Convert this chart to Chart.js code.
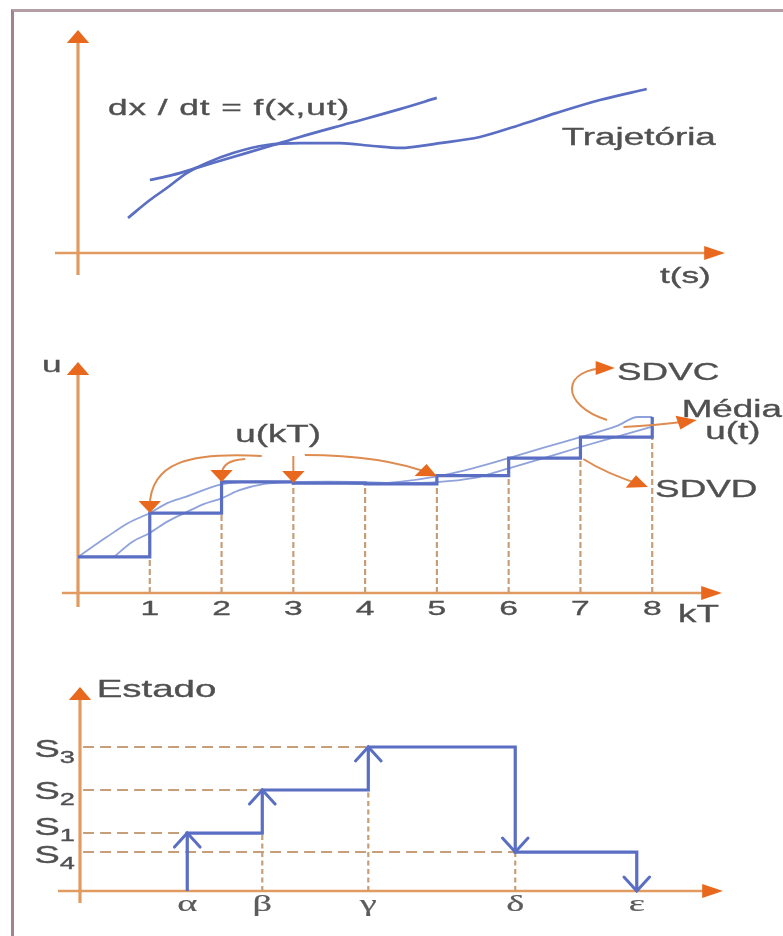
<!DOCTYPE html>
<html lang="pt">
<head>
<meta charset="utf-8">
<title>Trajetória, amostragem e estados</title>
<script src="https://cdn.jsdelivr.net/npm/chart.js@4.4.1/dist/chart.umd.min.js"></script>
<style>
  html, body { margin: 0; padding: 0; background: #fff; }
  #page { position: relative; width: 783px; height: 936px; overflow: hidden; background: #fff; }
  #frame { position: absolute; left: 11px; top: 9px; width: 820px; height: 980px;
           border-left: 3px solid #a2838d; border-top: 3px solid #b49ea6; }
  canvas { position: absolute; left: 0; }
</style>
</head>
<body>
<div id="page">
  <div id="frame"></div>
  <canvas id="c1" width="783" height="300" style="top:0px"></canvas>
  <canvas id="c2" width="783" height="330" style="top:310px"></canvas>
  <canvas id="c3" width="783" height="296" style="top:640px"></canvas>
</div>
<script>
// ---- Panel 1: vector field curve and state trajectory over t(s) ----
const fieldT = [1.15, 1.52, 1.95, 2.48, 3.02, 3.55, 4.35, 5.15, 5.74];
const fieldX = [3.46, 3.70, 4.08, 4.55, 5.02, 5.50, 6.16, 6.82, 7.35];
const trajT  = [0.80, 1.15, 1.42, 1.74, 2.06, 2.48, 3.02, 3.55, 4.19, 4.72, 5.15, 5.79, 6.43, 7.07, 7.66, 8.35, 9.10];
const trajX  = [1.66, 2.51, 3.08, 3.79, 4.27, 4.74, 5.12, 5.21, 5.21, 5.07, 4.98, 5.21, 5.50, 6.07, 6.64, 7.25, 7.77];

// ---- Panel 2: sampled signal u(kT) (SDVD), continuous u (SDVC) and its mean ----
const sampleK = [0, 1, 2, 3, 4, 5, 6, 7, 8];
const sampleU = [1.56, 3.46, 4.81, 4.76, 4.72, 5.08, 5.84, 6.75, 7.62];
const kTickLabels = ['1', '2', '3', '4', '5', '6', '7', '8'];
const contT = [0, 0.4, 0.7, 1, 1.25, 1.5, 2, 2.5, 3, 3.5, 4, 4.5, 5, 5.5, 6, 6.5, 7, 7.5, 7.8, 8];
const contU = [1.56, 2.42, 3.03, 3.46, 3.90, 4.16, 4.70, 4.82, 4.81, 4.80, 4.72, 4.82, 5.05, 5.40, 5.84, 6.30, 6.75, 7.22, 7.62, 7.62];
const meanT = [0.5, 0.75, 1, 1.25, 1.5, 1.75, 2, 2.25, 2.6, 3, 3.5, 4, 4.5, 5, 5.5, 6, 6.5, 7, 7.5, 8];
const meanU = [1.56, 2.20, 2.60, 3.10, 3.48, 3.85, 4.10, 4.45, 4.72, 4.80, 4.82, 4.80, 4.76, 4.80, 4.97, 5.40, 5.85, 6.32, 6.76, 7.20];

// ---- Panel 3: discrete-event state sequence ----
const eventNames  = ['α', 'β', 'γ', 'δ', 'ε'];
const eventTimes  = [1.73, 2.94, 4.65, 7.02, 8.98];
const stateNames  = ['S1', 'S2', 'S3', 'S4'];
const stateLevels = [2.84, 4.95, 7.06, 1.91];
const stateAfterEvent = [0, 1, 2, 3, -1];   // index into stateNames, -1 = back to the axis

// ---- drawing style ----
const S = 1.6;                // horizontal stretch of lettering and arrowheads
const FONT = '"Liberation Sans", Arial, Helvetica, sans-serif';
const SERIF = '"Liberation Serif", "Times New Roman", serif';
const INK = '#505050';
const AXIS = '#e19a5f';
const ORANGE = '#e8691d';
const LINK = '#de8b50';
const BLUE = '#5a6ec3';
const BLUE_THIN = '#8fa2db';
const DASH = '#c69f79';

function zip(xs, ys) { return xs.map((x, i) => ({ x, y: ys[i] })); }
function at(chart, x, y) {
  return { x: chart.scales.x.getPixelForValue(x), y: chart.scales.y.getPixelForValue(y) };
}

function label(ctx, str, x, y, o = {}) {
  const size = o.size || 22;
  const color = o.color || INK;
  ctx.save();
  ctx.font = `${size}px ${o.family || FONT}`;
  ctx.fillStyle = color;
  ctx.strokeStyle = color;
  ctx.lineWidth = o.weight === undefined ? 0.35 : o.weight;
  ctx.textBaseline = 'alphabetic';
  ctx.textAlign = 'left';
  if (o.spacing) ctx.letterSpacing = o.spacing + 'px';
  const w = ctx.measureText(str).width * S;
  let x0 = x;
  if (o.align === 'center') x0 = x - w / 2;
  else if (o.align === 'right') x0 = x - w;
  ctx.translate(x0, y);
  ctx.scale(S, 1);
  ctx.fillText(str, 0, 0);
  if (ctx.lineWidth > 0) ctx.strokeText(str, 0, 0);
  ctx.restore();
  return w;
}
function labelAt(chart, str, x, y, o) {
  const p = at(chart, x, y);
  return label(chart.ctx, str, p.x, p.y, o);
}

function headPoints(tip, dir, len, half) {
  let ux = dir.x / S, uy = dir.y;
  const n = Math.hypot(ux, uy) || 1;
  ux /= n; uy /= n;
  const bx = -ux * len, by = -uy * len;
  return [
    { x: tip.x + (bx - uy * half) * S, y: tip.y + (by + ux * half) },
    { x: tip.x + (bx + uy * half) * S, y: tip.y + (by - ux * half) }
  ];
}
function filledHead(ctx, tip, dir, len, half, color) {
  const [p, q] = headPoints(tip, dir, len, half);
  ctx.save();
  ctx.fillStyle = color;
  ctx.beginPath();
  ctx.moveTo(tip.x, tip.y); ctx.lineTo(p.x, p.y); ctx.lineTo(q.x, q.y);
  ctx.closePath(); ctx.fill();
  ctx.restore();
}
function openHead(ctx, tip, dir, len, half, color, width) {
  const [p, q] = headPoints(tip, dir, len, half);
  ctx.save();
  ctx.strokeStyle = color; ctx.lineWidth = width; ctx.lineCap = 'round'; ctx.lineJoin = 'miter';
  ctx.beginPath();
  ctx.moveTo(p.x, p.y); ctx.lineTo(tip.x, tip.y); ctx.lineTo(q.x, q.y);
  ctx.stroke();
  ctx.restore();
}

// axis lines with arrowheads, placed on the x = 0 / y = 0 edges of the plot area
function axes(chart, g) {
  const ctx = chart.ctx, a = chart.chartArea;
  const xTip = a.right + g.xTip, yTip = a.top - g.yTip;
  ctx.save();
  ctx.strokeStyle = AXIS;
  ctx.lineWidth = 2.6;
  ctx.beginPath(); ctx.moveTo(a.left - g.xBack, a.bottom); ctx.lineTo(xTip - 10 * S, a.bottom); ctx.stroke();
  ctx.lineWidth = 3.2;
  ctx.beginPath(); ctx.moveTo(a.left, a.bottom + g.yBelow); ctx.lineTo(a.left, yTip + 10); ctx.stroke();
  ctx.restore();
  filledHead(ctx, { x: xTip, y: a.bottom }, { x: 1, y: 0 }, 13, 7, ORANGE);
  filledHead(ctx, { x: a.left, y: yTip }, { x: 0, y: -1 }, 13, 7, ORANGE);
}

// curved callout ending in a filled arrowhead; points in data units
function link(chart, p0, c1, c2, p3) {
  const ctx = chart.ctx;
  const a = at(chart, p0[0], p0[1]), b = at(chart, c1[0], c1[1]);
  const c = at(chart, c2[0], c2[1]), d = at(chart, p3[0], p3[1]);
  const dir = { x: d.x - c.x, y: d.y - c.y };
  const n = Math.hypot(dir.x, dir.y) || 1;
  const e = { x: d.x - dir.x / n * 6, y: d.y - dir.y / n * 6 };
  ctx.save();
  ctx.strokeStyle = LINK; ctx.lineWidth = 2;
  ctx.beginPath(); ctx.moveTo(a.x, a.y); ctx.bezierCurveTo(b.x, b.y, c.x, c.y, e.x, e.y); ctx.stroke();
  ctx.restore();
  filledHead(ctx, d, dir, 12, 7, ORANGE);
}

function frameOptions(area, h, xr, yr) {
  return {
    responsive: false,
    animation: false,
    events: [],
    layout: { padding: { left: area.left, right: 783 - area.right, top: area.top, bottom: h - area.bottom } },
    scales: {
      x: { type: 'linear', display: false, min: xr[0], max: xr[1] },
      y: { type: 'linear', display: false, min: yr[0], max: yr[1] }
    },
    plugins: { legend: { display: false }, tooltip: { enabled: false } },
    elements: { point: { radius: 0 } }
  };
}
const smooth = { cubicInterpolationMode: 'monotone', pointRadius: 0, fill: false, clip: false };

// ================= Panel 1 =================
new Chart(document.getElementById('c1'), {
  type: 'line',
  data: {
    datasets: [
      { label: 'dx / dt = f(x,ut)', data: zip(fieldT, fieldX), borderColor: BLUE, borderWidth: 2.7, ...smooth },
      { label: 'Trajetória', data: zip(trajT, trajX), borderColor: BLUE, borderWidth: 2.7, ...smooth }
    ]
  },
  options: frameOptions({ left: 78, right: 703, top: 42, bottom: 253 }, 300, [0, 10], [0, 10]),
  plugins: [{
    id: 'panel1',
    beforeDatasetsDraw(chart) { axes(chart, { xBack: 23, xTip: 22, yBelow: 22, yTip: 12 }); },
    afterDatasetsDraw(chart) {
      labelAt(chart, 'dx / dt = f(x,ut)', 0.48, 6.54, { size: 22, spacing: 0.6 });
      labelAt(chart, 'Trajetória', 7.74, 5.12, { size: 23 });
      labelAt(chart, 't(s)', 9.31, -1.42, { size: 22 });
    }
  }]
});

// ================= Panel 2 =================
const sampleGuides = sampleK.slice(1).map(k => ({
  data: [{ x: k, y: 0 }, { x: k, y: sampleU[k] }],
  borderColor: DASH, borderWidth: 2.2, borderDash: [6, 3], pointRadius: 0, fill: false, clip: false, order: 5
}));

new Chart(document.getElementById('c2'), {
  type: 'line',
  data: {
    datasets: [
      { label: 'SDVD', data: zip(sampleK, sampleU), stepped: 'before', borderColor: BLUE, borderWidth: 3.2,
        pointRadius: 0, fill: false, clip: false, order: 0 },
      { label: 'SDVC', data: zip(contT, contU), borderColor: BLUE_THIN, borderWidth: 1.8, order: 1, ...smooth },
      { label: 'Média u(t)', data: zip(meanT, meanU), borderColor: BLUE_THIN, borderWidth: 1.8, order: 1, ...smooth },
      ...sampleGuides
    ]
  },
  options: frameOptions({ left: 78, right: 724, top: 52, bottom: 283 }, 330, [0, 9], [0, 10]),
  plugins: [{
    id: 'panel2',
    beforeDatasetsDraw(chart) { axes(chart, { xBack: 16, xTip: -2, yBelow: 14, yTip: 0 }); },
    afterDatasetsDraw(chart) {
      const a = chart.chartArea;
      // callouts from u(kT) to the samples
      link(chart, [2.56, 5.93], [1.56, 6.10], [1.0, 5.67], [1, sampleU[1]]);
      link(chart, [2.33, 5.80], [2.12, 5.75], [2.0, 5.60], [2, sampleU[2]]);
      link(chart, [3.0, 5.93], [3.0, 5.60], [3.0, 5.30], [3, sampleU[3]]);
      link(chart, [3.16, 5.97], [3.93, 5.97], [4.49, 5.67], [5, 5.05]);
      // callouts to the legend words
      link(chart, [7.37, 7.49], [6.71, 8.14], [6.72, 9.74], [7.48, 9.74]);
      link(chart, [7.60, 7.19], [7.97, 7.23], [8.32, 7.36], [8.62, 7.49]);
      link(chart, [7.04, 5.80], [7.28, 5.32], [7.55, 4.98], [7.94, 4.59]);

      labelAt(chart, 'u', -0.5, 9.57, { size: 22 });
      labelAt(chart, 'u(kT)', 2.19, 6.54, { size: 23 });
      labelAt(chart, 'SDVC', 7.51, 9.22, { size: 23 });
      labelAt(chart, 'Média', 8.41, 7.62, { size: 23 });
      labelAt(chart, 'u(t)', 8.74, 6.67, { size: 23 });
      labelAt(chart, 'SDVD', 8.04, 4.16, { size: 23 });
      labelAt(chart, 'kT', 8.36, -1.26, { size: 23 });
      kTickLabels.forEach((t, i) => {
        label(chart.ctx, t, chart.scales.x.getPixelForValue(sampleK[i + 1]), a.bottom + 22, { size: 21, align: 'center' });
      });
    }
  }]
});

// ================= Panel 3 =================
const levelAfter = stateAfterEvent.map(s => (s < 0 ? 0 : stateLevels[s]));
const statePath = [{ x: eventTimes[0], y: 0 }].concat(eventTimes.map((t, i) => ({ x: t, y: levelAfter[i] })));

const levelGuides = stateNames.map((n, j) => {
  const i = stateAfterEvent.indexOf(j);
  return {
    data: [{ x: 0.05, y: stateLevels[j] }, { x: eventTimes[i], y: stateLevels[j] }],
    borderColor: DASH, borderWidth: 2, borderDash: [11, 6], pointRadius: 0, fill: false, clip: false, order: 5
  };
});
const eventGuides = eventTimes.map((t, i) => {
  const before = i === 0 ? 0 : levelAfter[i - 1];
  const low = Math.min(before, levelAfter[i]);
  return low > 0 ? {
    data: [{ x: t, y: 0 }, { x: t, y: low }],
    borderColor: DASH, borderWidth: 2.2, borderDash: [5, 3.5], pointRadius: 0, fill: false, clip: false, order: 5
  } : null;
}).filter(Boolean);

new Chart(document.getElementById('c3'), {
  type: 'line',
  data: {
    datasets: [
      { label: 'Estado', data: statePath, stepped: 'before', borderColor: BLUE, borderWidth: 3.2,
        pointRadius: 0, fill: false, clip: false, order: 0 },
      ...levelGuides,
      ...eventGuides
    ]
  },
  options: frameOptions({ left: 80, right: 700, top: 47, bottom: 251 }, 296, [0, 10], [0, 10]),
  plugins: [{
    id: 'panel3',
    beforeDatasetsDraw(chart) { axes(chart, { xBack: 22, xTip: 23, yBelow: 12, yTip: 0 }); },
    afterDatasetsDraw(chart) {
      const ctx = chart.ctx, a = chart.chartArea;
      // transition arrowheads
      eventTimes.forEach((t, i) => {
        const before = i === 0 ? 0 : levelAfter[i - 1];
        const tip = at(chart, t, levelAfter[i]);
        openHead(ctx, tip, { x: 0, y: levelAfter[i] > before ? -1 : 1 }, 14, 8, BLUE, 3);
      });
      labelAt(chart, 'Estado', 0.27, 9.51, { size: 24 });
      // state names with subscript index
      const baselineShift = { S1: 2, S2: 9, S3: 10, S4: 11 };
      stateNames.forEach((n, j) => {
        const y = chart.scales.y.getPixelForValue(stateLevels[j]) + baselineShift[n];
        const right = a.left - 5;
        ctx.save();
        ctx.font = `17px ${FONT}`;
        const wSub = ctx.measureText(n.slice(1)).width * S;
        ctx.restore();
        label(ctx, n.slice(1), right - wSub, y + 6, { size: 17 });
        label(ctx, n[0], right - wSub, y, { size: 24, align: 'right' });
      });
      eventNames.forEach((n, i) => {
        label(ctx, n, chart.scales.x.getPixelForValue(eventTimes[i]), a.bottom + 20,
              { size: 24, family: SERIF, align: 'center', color: '#5c5c5c', weight: 0.2 });
      });
    }
  }]
});
</script>
</body>
</html>
